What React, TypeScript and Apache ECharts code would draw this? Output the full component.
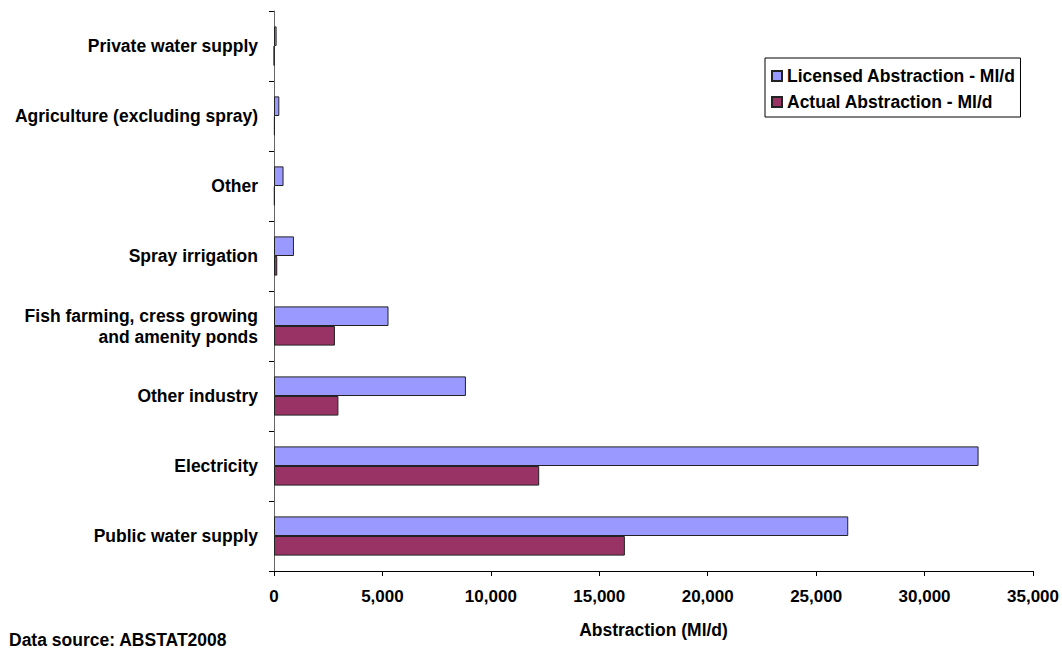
import React, { useEffect, useRef } from "react";
import * as echarts from "echarts";

const categories = [
  "Private water supply",
  "Agriculture (excluding spray)",
  "Other",
  "Spray irrigation",
  "Fish farming, cress growing\nand amenity ponds",
  "Other industry",
  "Electricity",
  "Public water supply",
];
const licensed = [120, 245, 440, 920, 5280, 8850, 32490, 26480];
const actual = [10, 40, 35, 150, 2810, 2970, 12230, 16180];
const seriesNames = ["Licensed Abstraction - Ml/d", "Actual Abstraction - Ml/d"];
const xTicks = { min: 0, max: 35000, interval: 5000 };

const FONT = "'Liberation Sans', Arial, sans-serif";
const FS = 17.5;

export default function App() {
  const ref = useRef<HTMLDivElement>(null);
  useEffect(() => {
    if (!ref.current) return;
    const chart = echarts.init(ref.current, undefined, { renderer: "svg" });
    chart.setOption({
      animation: false,
      backgroundColor: "#fff",
      textStyle: { fontFamily: FONT },
      grid: { left: 274, right: 22, top: 11, bottom: 79, containLabel: false },
      legend: {
        orient: "vertical",
        left: 765,
        top: 58,
        data: seriesNames,
        borderColor: "#000",
        borderWidth: 1,
        padding: [8, 5, 5, 6],
        itemGap: 6,
        itemWidth: 10,
        itemHeight: 10,
        icon: "rect",
        textStyle: {
          fontFamily: FONT,
          fontWeight: "bold",
          fontSize: FS,
          color: "#000",
          lineHeight: 20,
        },
      },
      xAxis: {
        type: "value",
        min: xTicks.min,
        max: xTicks.max,
        interval: xTicks.interval,
        name: "Abstraction (Ml/d)",
        nameLocation: "middle",
        nameGap: 50,
        nameTextStyle: { fontFamily: FONT, fontWeight: "bold", fontSize: FS, color: "#000" },
        axisLine: { show: true, lineStyle: { color: "#000", width: 1 } },
        axisTick: { show: true, length: 5, lineStyle: { color: "#000" } },
        splitLine: { show: false },
        axisLabel: {
          margin: 17,
          fontFamily: FONT,
          fontWeight: "bold",
          fontSize: 17,
          color: "#000",
          formatter: (v: number) => v.toLocaleString("en-US"),
        },
      },
      yAxis: {
        type: "category",
        inverse: true,
        data: categories,
        axisLine: { show: true, lineStyle: { color: "#666", width: 1 } },
        axisTick: { show: true, length: 5, lineStyle: { color: "#000" } },
        axisLabel: {
          margin: 16,
          fontFamily: FONT,
          fontWeight: "bold",
          fontSize: FS,
          color: "#000",
          lineHeight: 21,
          align: "right",
        },
      },
      series: [
        {
          name: seriesNames[0],
          type: "bar",
          data: licensed,
          barGap: "0%",
          barCategoryGap: "44%",
          itemStyle: { color: "#9999FF", borderColor: "#222", borderWidth: 1 },
        },
        {
          name: seriesNames[1],
          type: "bar",
          data: actual,
          barGap: "0%",
          barCategoryGap: "44%",
          itemStyle: { color: "#993366", borderColor: "#222", borderWidth: 1 },
        },
      ],
      graphic: [
        {
          type: "text",
          left: 9,
          top: 631,
          style: {
            text: "Data source: ABSTAT2008",
            fontFamily: FONT,
            fontWeight: "bold",
            fontSize: FS,
            lineHeight: 18,
            fill: "#000",
          },
        },
      ],
    });
    return () => chart.dispose();
  }, []);
  return <div ref={ref} style={{ width: 1062, height: 650, position: "absolute", left: 0, top: 0 }} />;
}
